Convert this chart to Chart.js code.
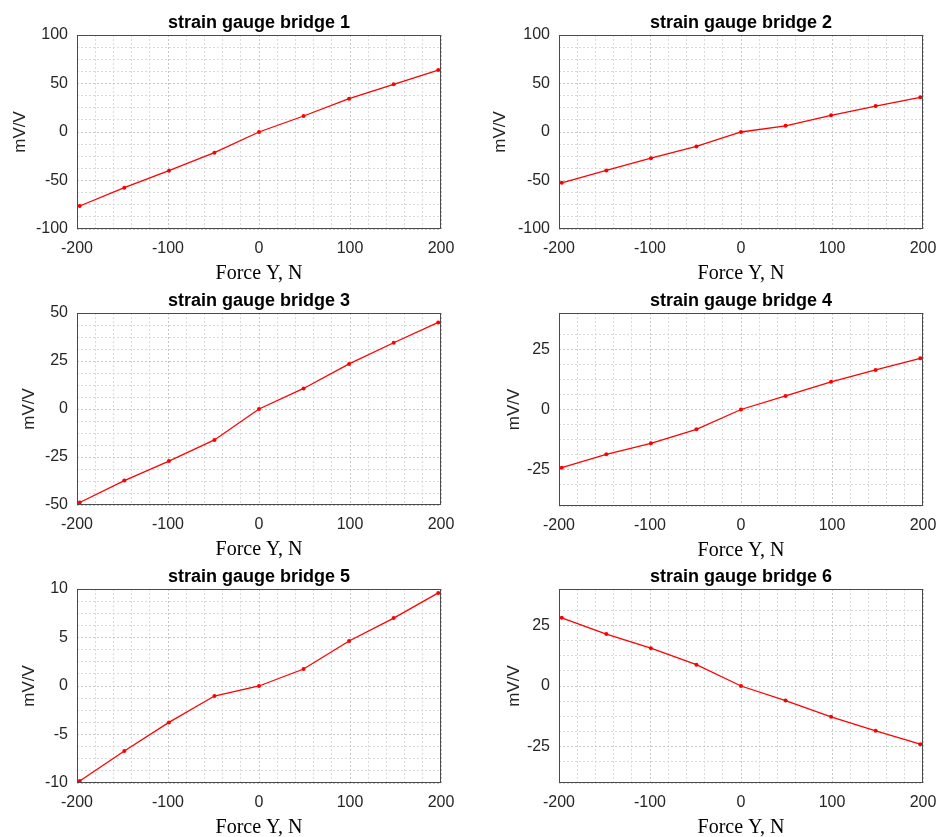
<!DOCTYPE html>
<html>
<head>
<meta charset="utf-8">
<script src="https://cdn.jsdelivr.net/npm/chart.js@4.4.0/dist/chart.umd.min.js"></script>
<style>
  body { margin: 0; background: #fff; width: 940px; height: 837px; position: relative; overflow: hidden; }
  canvas { position: absolute; }
</style>
</head>
<body>
<script>
// measured force values (nominal -200 ... 200 N)
const force = [-197, -148, -99, -49, 0, 49, 99, 148, 197];

const bridge1 = [-76.3, -57.4, -39.9, -21.3, 0, 16.5, 34.4, 49.1, 63.9];
const bridge2 = [-52.4, -39.6, -27.0, -14.9, 0, 6.4, 17.2, 26.7, 35.7];
const bridge3 = [-48.7, -37.3, -27.1, -16.1, 0, 10.7, 23.5, 34.5, 45.1];
const bridge4 = [-24.1, -18.6, -14.0, -8.2, 0, 5.6, 11.5, 16.4, 21.2];
const bridge5 = [-9.8, -6.7, -3.75, -1.03, 0, 1.75, 4.64, 7.0, 9.6];
const bridge6 = [28.1, 21.4, 15.6, 8.8, 0, -6.0, -12.7, -18.5, -24.0];

const titles = ['strain gauge bridge 1', 'strain gauge bridge 2', 'strain gauge bridge 3',
                'strain gauge bridge 4', 'strain gauge bridge 5', 'strain gauge bridge 6'];
const series = [bridge1, bridge2, bridge3, bridge4, bridge5, bridge6];
const yRanges = [[-100, 100], [-100, 100], [-50, 50], [-40, 40], [-10, 10], [-40, 40]];
const yMajor = [50, 50, 25, 25, 5, 25];
const xRange = [-200, 200];
const xMajor = 100;

// plot-area boxes on the page: left, top, right, bottom
const panels = [
  { box: [77, 35, 441, 229], ylabGap: 57 },
  { box: [559, 35, 923, 229], ylabGap: 59 },
  { box: [77, 313, 441, 505], ylabGap: 48 },
  { box: [559, 313, 923, 506], ylabGap: 45 },
  { box: [77, 589, 441, 783], ylabGap: 48 },
  { box: [559, 589, 923, 783], ylabGap: 45 }
];

const Y_AXIS_W = 77, TOP_H = 35, X_AXIS_H = 57, RIGHT_PAD = 17;

const isMajor = (v, step) => Math.abs(v / step - Math.round(v / step)) < 1e-6;

// axes box + title centred over the plot area (like MATLAB subplot titles)
const boxPlugin = {
  id: 'box',
  afterDraw(chart, args, opts) {
    const { ctx, chartArea: a } = chart;
    ctx.save();
    ctx.strokeStyle = '#4a4a4a';
    ctx.lineWidth = 1;
    ctx.strokeRect(Math.round(a.left) + 0.5, Math.round(a.top) + 0.5,
                   Math.round(a.right - a.left) - 1, Math.round(a.bottom - a.top) - 1);
    ctx.fillStyle = '#000';
    ctx.font = 'bold 18px "Liberation Sans", Arial, sans-serif';
    ctx.textAlign = 'center';
    ctx.textBaseline = 'middle';
    ctx.fillText(opts.text, (a.left + a.right) / 2, a.top - 12);
    ctx.restore();
  }
};

function makeChart(i) {
  const [l, t, r, b] = panels[i].box;
  const canvas = document.createElement('canvas');
  canvas.width = Y_AXIS_W + (r - l) + RIGHT_PAD;
  canvas.height = TOP_H + (b - t) + X_AXIS_H;
  canvas.style.left = (l - Y_AXIS_W) + 'px';
  canvas.style.top = (t - TOP_H) + 'px';
  document.body.appendChild(canvas);

  const major = yMajor[i];
  const yTitleFont = 17;
  const gridColor = (v, step) => isMajor(v, step) ? '#c6c6c6' : '#dadada';

  new Chart(canvas, {
    type: 'line',
    data: {
      datasets: [{
        data: force.map((f, k) => ({ x: f, y: series[i][k] })),
        borderColor: '#ff0000',
        backgroundColor: '#ff0000',
        borderWidth: 1.3,
        pointRadius: 2,
        pointHoverRadius: 2,
        pointBorderWidth: 0,
        clip: false,
        tension: 0
      }]
    },
    options: {
      responsive: false,
      animation: false,
      layout: { padding: { left: 0, right: RIGHT_PAD, top: TOP_H, bottom: 0 } },
      plugins: {
        legend: { display: false },
        tooltip: { enabled: false },
        title: { display: false },
        box: { text: titles[i] }
      },
      scales: {
        x: {
          type: 'linear',
          min: xRange[0], max: xRange[1],
          afterFit: s => { s.height = X_AXIS_H; s.paddingLeft = 0; s.paddingRight = 0; },
          ticks: {
            stepSize: 20, autoSkip: false, maxRotation: 0, padding: 10,
            color: '#262626',
            font: { family: 'Liberation Sans, Arial, sans-serif', size: 16 },
            callback: v => isMajor(v, xMajor) ? String(v) : ''
          },
          grid: {
            drawTicks: false,
            color: c => gridColor(c.tick.value, xMajor),
            lineWidth: 1
          },
          border: { display: false, dash: [2, 2] },
          title: {
            display: true, text: 'Force Y, N', color: '#000',
            font: { family: 'Liberation Serif, Times New Roman, serif', size: 20, lineHeight: 1.2 },
            padding: { top: 0, bottom: 0 }
          }
        },
        y: {
          type: 'linear',
          min: yRanges[i][0], max: yRanges[i][1],
          afterFit: s => { s.width = Y_AXIS_W; s.paddingTop = 0; s.paddingBottom = 0; },
          ticks: {
            stepSize: major / 4, autoSkip: false, padding: 9,
            color: '#262626',
            font: { family: 'Liberation Sans, Arial, sans-serif', size: 16 },
            callback: v => isMajor(v, major) ? String(v) : ''
          },
          grid: {
            drawTicks: false,
            color: c => gridColor(c.tick.value, major),
            lineWidth: 1
          },
          border: { display: false, dash: [2, 2] },
          title: {
            display: true, text: 'mV/V', color: '#262626',
            font: { family: 'Liberation Sans, Arial, sans-serif', size: yTitleFont, lineHeight: 1.2 },
            padding: { top: Y_AXIS_W - panels[i].ylabGap - yTitleFont * 0.6, bottom: 0 }
          }
        }
      }
    },
    plugins: [boxPlugin]
  });
}

for (let i = 0; i < 6; i++) makeChart(i);
</script>
</body>
</html>
